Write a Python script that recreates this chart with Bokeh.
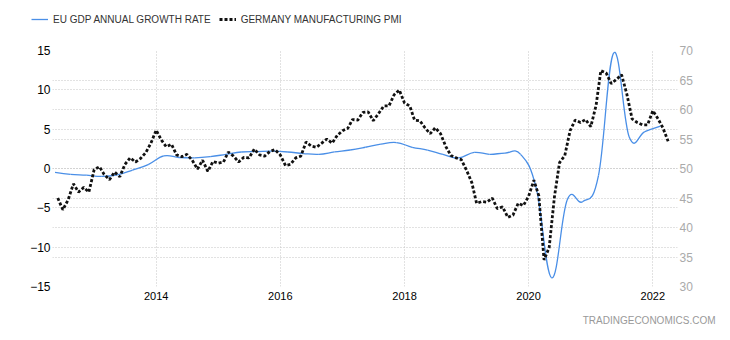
import numpy as np
import pandas as pd
from bokeh.plotting import figure
from bokeh.layouts import column
from bokeh.models import (Range1d, LinearAxis, FixedTicker, DatetimeTickFormatter, Grid,
                          Legend, LegendItem, Title, ColumnDataSource, Plot)
from bokeh.embed import file_html
from bokeh.resources import INLINE

# ---------------- data ----------------
pmi_start = "2012-06-01"
germany_pmi = [
    45.0, 43.0, 44.7, 47.4, 46.0, 46.8, 46.0,
    49.8, 50.3, 49.0, 48.1, 49.4, 48.6, 50.7, 51.8, 51.1, 51.7, 52.7, 54.3,
    56.5, 54.8, 53.7, 54.1, 52.3, 52.0, 52.4, 51.4, 49.9, 51.4, 49.5, 51.2,
    50.9, 51.1, 52.8, 52.1, 51.1, 51.9, 51.8, 53.3, 52.3, 52.1, 52.9, 53.2,
    52.3, 50.5, 50.7, 51.8, 52.1, 54.5, 53.8, 53.6, 54.3, 55.0, 54.3, 55.6,
    56.4, 56.8, 58.3, 58.2, 59.5, 59.6, 58.1, 59.3, 60.6, 60.6, 62.5, 63.3,
    61.1, 60.6, 58.2, 58.1, 56.9, 55.9, 56.9, 55.9, 53.7, 52.2, 51.8, 51.5,
    49.7, 47.6, 44.1, 44.4, 44.3, 45.0, 43.2, 43.5, 41.7, 42.1, 44.1, 43.7,
    45.3, 48.0, 45.4, 34.5, 36.6, 45.2, 51.0, 52.2, 56.4, 58.2, 57.8, 58.3,
    57.1, 60.7, 66.6, 66.2, 64.4, 65.1, 65.9, 62.6, 58.4, 57.8, 57.4, 57.4,
    59.8, 58.4, 56.9, 54.6,
]

gdp_quarters = [
    "2012Q2", "2012Q3", "2012Q4",
    "2013Q1", "2013Q2", "2013Q3", "2013Q4",
    "2014Q1", "2014Q2", "2014Q3", "2014Q4",
    "2015Q1", "2015Q2", "2015Q3", "2015Q4",
    "2016Q1", "2016Q2", "2016Q3", "2016Q4",
    "2017Q1", "2017Q2", "2017Q3", "2017Q4",
    "2018Q1", "2018Q2", "2018Q3", "2018Q4",
    "2019Q1", "2019Q2", "2019Q3", "2019Q4",
    "2020Q1", "2020Q2", "2020Q3", "2020Q4",
    "2021Q1", "2021Q2", "2021Q3", "2021Q4",
    "2022Q1",
]
eu_gdp_growth = [
    -0.5, -0.75, -0.85,
    -1.0, -0.8, -0.2, 0.5,
    1.6, 1.4, 1.35, 1.5,
    1.8, 2.1, 2.15, 2.2,
    2.1, 1.9, 1.8, 2.1,
    2.35, 2.7, 3.1, 3.3,
    2.7, 2.35, 1.8, 1.35,
    2.05, 1.8, 1.95, 1.8,
    -2.5, -13.9, -4.0, -4.2,
    -0.9, 14.7, 4.0, 4.7,
    5.4,
]

series_names = ["EU GDP ANNUAL GROWTH RATE", "GERMANY MANUFACTURING PMI"]
left_ticks = [-15, -10, -5, 0, 5, 10, 15]
right_ticks = [30, 35, 40, 45, 50, 55, 60, 65, 70]
year_ticks = [2014, 2016, 2018, 2020, 2022]

# ---------------- helpers ----------------
def to_ms(ts):
    return (pd.DatetimeIndex(ts) - pd.Timestamp("1970-01-01")) / pd.Timedelta(milliseconds=1)

pmi_dates = pd.date_range(pmi_start, periods=len(germany_pmi), freq="MS")
gdp_dates = pd.PeriodIndex(gdp_quarters, freq="Q").start_time + pd.Timedelta(days=45)

def spline_segments(xs, ys, smoothing=1.5):
    xs = np.asarray(xs, dtype=float)
    ys = np.asarray(ys, dtype=float)
    n = len(xs)
    lcx, lcy = xs.copy(), ys.copy()
    rcx, rcy = xs.copy(), ys.copy()
    d = smoothing + 1
    for i in range(1, n - 1):
        px, py = xs[i], ys[i]
        a = (smoothing * px + xs[i - 1]) / d
        b = (smoothing * py + ys[i - 1]) / d
        c = (smoothing * px + xs[i + 1]) / d
        e = (smoothing * py + ys[i + 1]) / d
        corr = (e - b) * (c - px) / (c - a) + py - e
        lcx[i], lcy[i], rcx[i], rcy[i] = a, b + corr, c, e + corr
    return dict(x0=xs[:-1], y0=ys[:-1], x1=xs[1:], y1=ys[1:],
                cx0=rcx[:-1], cy0=rcy[:-1], cx1=lcx[1:], cy1=lcy[1:])

FONT = "Liberation Sans"
BLUE = "#4a8fe7"
BLACK = "#111111"
GDP_STYLE = dict(line_color=BLUE, line_width=1.3)
PMI_STYLE = dict(line_color=BLACK, line_width=2.8, line_dash="3 2")
CAN_UNALIGN = "frame_align" in Plot.properties()

# ---------------- legend strip ----------------
lg = figure(width=730, height=40, output_backend="svg", toolbar_location=None,
            x_axis_location=None, y_axis_location=None,
            x_range=Range1d(0, 1), y_range=Range1d(0, 1),
            min_border=0)
lg.outline_line_color = None
lg.grid.visible = False
# legend-only renderers (their data lies outside this strip's ranges)
lg_gdp = lg.line(x=to_ms(gdp_dates), y=eu_gdp_growth, **GDP_STYLE)
lg_pmi = lg.line(x=to_ms(pmi_dates), y=germany_pmi, **PMI_STYLE)
legend = Legend(items=[LegendItem(label=series_names[0], renderers=[lg_gdp]),
                       LegendItem(label=series_names[1], renderers=[lg_pmi])],
                location=(31 if CAN_UNALIGN else 0, 15), orientation="horizontal",
                padding=0, margin=0, spacing=8,
                glyph_width=17, glyph_height=12, label_height=12,
                label_standoff=5, label_text_font=FONT,
                label_text_font_size="10px", label_text_color="#333333",
                border_line_color=None, background_fill_alpha=0)
lg.add_layout(legend)

# ---------------- main chart ----------------
p = figure(width=730, height=300, x_axis_type="datetime",
           output_backend="svg", toolbar_location=None,
           x_range=Range1d(pd.Timestamp("2012-05-01"), pd.Timestamp("2022-05-26")),
           y_range=Range1d(-15, 15),
           min_border_left=52, min_border_right=53,
           min_border_top=10, min_border_bottom=54)
p.outline_line_color = None
p.background_fill_color = "white"
p.border_fill_color = "white"
p.extra_y_ranges = {"pmi": Range1d(30, 70)}

if CAN_UNALIGN:
    lg.frame_align = False
    p.frame_align = False

xax = p.xaxis[0]
xax.ticker = FixedTicker(ticks=list(to_ms([pd.Timestamp(f"{y}-01-01") for y in year_ticks])))
xax.formatter = DatetimeTickFormatter(years="%Y", months="%Y", days="%Y", hours="%Y")
yax = p.yaxis[0]
yax.ticker = FixedTicker(ticks=left_ticks)
rax = LinearAxis(y_range_name="pmi", ticker=FixedTicker(ticks=right_ticks))
p.add_layout(rax, "right")

for ax, size, color, standoff in [(xax, "11px", "#000000", 5), (yax, "12px", "#000000", 2),
                                  (rax, "12px", "#aaaaaa", 2)]:
    ax.axis_line_color = None
    ax.major_tick_line_color = None
    ax.minor_tick_line_color = None
    ax.major_tick_out = 0
    ax.major_tick_in = 0
    ax.major_label_standoff = standoff
    ax.major_label_text_font = FONT
    ax.major_label_text_font_size = size
    ax.major_label_text_color = color

GRID = "#c4c4c4"
p.xgrid.grid_line_color = GRID
p.xgrid.grid_line_dash = "1 2"
p.ygrid.grid_line_color = GRID
p.ygrid.grid_line_dash = "1 2"
rgrid = Grid(dimension=1, ticker=FixedTicker(ticks=right_ticks), y_range_name="pmi",
             grid_line_color=GRID, grid_line_dash="1 2")
p.add_layout(rgrid)

gdp_src = ColumnDataSource(spline_segments(to_ms(gdp_dates), eu_gdp_growth))
p.bezier(x0="x0", y0="y0", x1="x1", y1="y1", cx0="cx0", cy0="cy0",
         cx1="cx1", cy1="cy1", source=gdp_src, **GDP_STYLE)
p.line(x=pmi_dates, y=germany_pmi, y_range_name="pmi", **PMI_STYLE)

p.add_layout(Title(text="TRADINGECONOMICS.COM", align="right", offset=-38,
                   text_font=FONT, text_font_size="10px", text_font_style="normal",
                   text_color="#999999", standoff=20), "below")

layout = column(lg, p, spacing=0)
open("out.html", "w").write(file_html(layout, INLINE))
